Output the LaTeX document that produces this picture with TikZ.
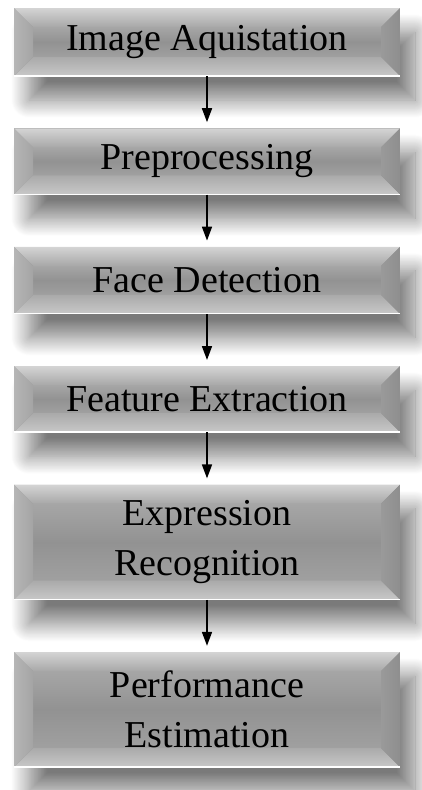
\documentclass[tikz,border=0pt]{standalone}
\usepackage{fontspec}
\setmainfont{Liberation Serif}
\usetikzlibrary{positioning,calc,arrows.meta,shadows.blur}

\definecolor{bevtop}{HTML}{D4D4D4}
\definecolor{bevtopin}{HTML}{A8A8A8}
\definecolor{bevleft}{HTML}{B6B6B6}
\definecolor{bevleftin}{HTML}{A4A4A4}
\definecolor{bevright}{HTML}{8E8E8E}
\definecolor{bevrightin}{HTML}{9A9A9A}
\definecolor{bevbot}{HTML}{C8C8C8}
\definecolor{bevbotin}{HTML}{AAAAAA}
\definecolor{facetop}{HTML}{A6A6A6}
\definecolor{facemid}{HTML}{929292}
\definecolor{facebot}{HTML}{A0A0A0}

\begin{document}
\begin{tikzpicture}[x=1pt, y=1pt, >=latex, node distance=52pt]
\tikzset{
  stepbox/.style={
    rectangle,
    minimum width=386pt,
    minimum height=#1,
    inner sep=0pt,
    align=center,
    font=\fontsize{38}{50}\selectfont,
    fill=facemid,
    blur shadow={shadow xshift=15pt, shadow yshift=-24pt,
      shadow blur radius=18pt, shadow blur steps=24,
      shadow opacity=52},
    path picture={
      \path (path picture bounding box.north west) coordinate (bnw)
            (path picture bounding box.north east) coordinate (bne)
            (path picture bounding box.south east) coordinate (bse)
            (path picture bounding box.south west) coordinate (bsw);
      \path ($(bnw)+(19pt,-19pt)$) coordinate (inw)
            ($(bne)+(-19pt,-19pt)$) coordinate (ine)
            ($(bse)+(-19pt,19pt)$) coordinate (ise)
            ($(bsw)+(19pt,19pt)$) coordinate (isw);
      % face
      \shade[top color=facetop, bottom color=facebot, middle color=facemid]
        (inw) rectangle (ise);
      % bevels
      \shade[top color=bevtop, bottom color=bevtopin]
        (bnw) -- (bne) -- (ine) -- (inw) -- cycle;
      \shade[top color=bevbotin, bottom color=bevbot]
        (bsw) -- (bse) -- (ise) -- (isw) -- cycle;
      \shade[left color=bevleft, right color=bevleftin]
        (bnw) -- (inw) -- (isw) -- (bsw) -- cycle;
      \shade[left color=bevrightin, right color=bevright]
        (bne) -- (ine) -- (ise) -- (bse) -- cycle;
      \draw[white, line width=1.5pt] (bsw) -- (bse);
    }
  },
  flow/.style={
    -{Triangle[width=10pt, length=14pt]},
    line width=1.7pt,
    shorten >=6pt
  }
}
\useasboundingbox (0,0) rectangle (422,-790);

\node [stepbox=68pt] (acq) at (207,-42) {Image Aquistation};
\node [stepbox=66pt, below=of acq] (pre) {Preprocessing};
\node [stepbox=67pt, below=of pre] (face) {Face Detection};
\node [stepbox=66pt, below=of face] (feat) {Feature Extraction};
\node [stepbox=115pt, below=of feat] (expr) {Expression\\Recognition};
\node [stepbox=115pt, below=of expr] (perf) {Performance\\Estimation};

\foreach \a/\b in {acq/pre, pre/face, face/feat, feat/expr, expr/perf}
  \draw [flow] (\a) -- (\b);
\end{tikzpicture}
\end{document}
